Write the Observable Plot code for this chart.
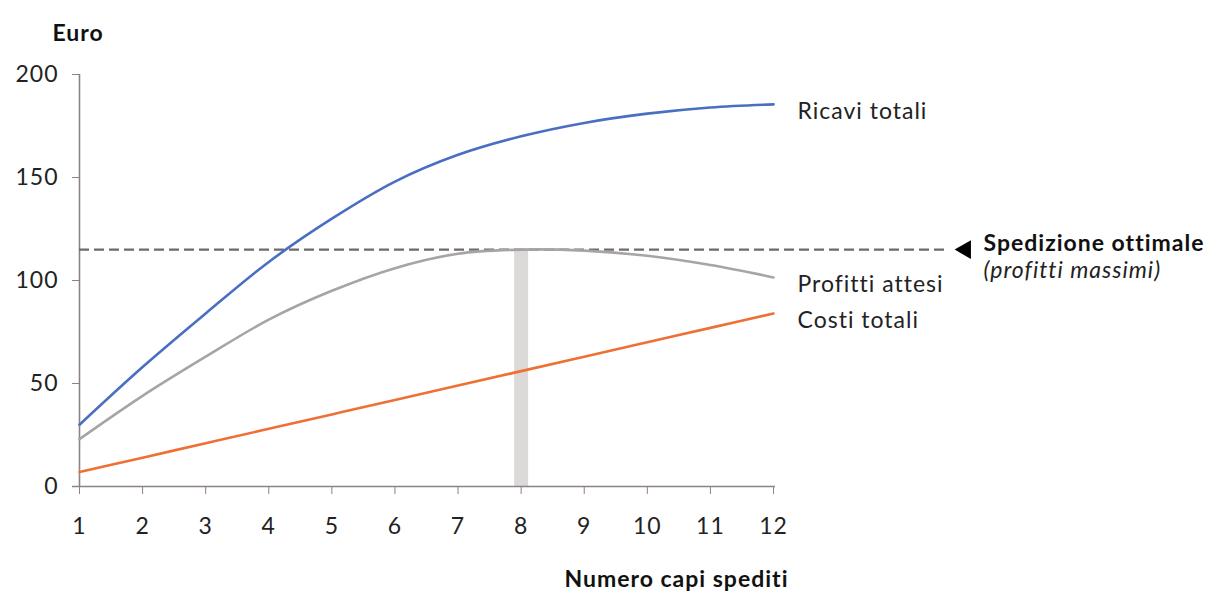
<!DOCTYPE html>
<html>
<head>
<meta charset="utf-8">
<script src="https://cdn.jsdelivr.net/npm/d3@7"></script>
<script src="https://cdn.jsdelivr.net/npm/@observablehq/plot@0.6"></script>
<style>
  html, body { margin: 0; padding: 0; background: #fff; }
  #chart svg { display: block; }
</style>
</head>
<body>
<div id="chart"></div>
<script>
// Numero di capi spediti (asse x)
const capi = [1, 2, 3, 4, 5, 6, 7, 8, 9, 10, 11, 12];
// Valori in euro per ogni quantità spedita
const ricavi = [30, 58, 84, 109, 130, 148, 161, 170, 176.5, 181, 184, 185.5];
const profitti = [23, 44, 63, 81, 95, 106, 113, 115, 114.5, 112, 107.5, 101.5];
const costi = [7, 14, 21, 28, 35, 42, 49, 56, 63, 70, 77, 84];
// Punto ottimo: quantità e profitto massimo
const ottimoCapi = 8;
const ottimoProfitto = 115;
const yTicks = [0, 50, 100, 150, 200];

const serie = [
  {nome: "Ricavi totali", valori: ricavi, colore: "#4a6fc2"},
  {nome: "Profitti attesi", valori: profitti, colore: "#a9a4a4"},
  {nome: "Costi totali", valori: costi, colore: "#ee7034"}
];
const punti = serie.flatMap(s => s.valori.map((v, i) => ({serie: s.nome, capi: capi[i], euro: v})));
const ultimi = serie.map(s => ({serie: s.nome, capi: capi[capi.length - 1], euro: s.valori[s.valori.length - 1]}));
const colori = Object.fromEntries(serie.map(s => [s.nome, s.colore]));

const axisColor = "#8c8282";
const textColor = "#222";

const chart = Plot.plot({
  width: 1215,
  height: 593,
  marginLeft: 79,
  marginRight: 442,
  marginTop: 74,
  marginBottom: 107,
  style: {fontFamily: "Lato, 'Open Sans', sans-serif", fontSize: "23px", letterSpacing: "1px", color: textColor, background: "#fff"},
  x: {domain: [1, 12]},
  y: {domain: [0, 200]},
  marks: [
    // barra verticale sulla quantità ottimale
    Plot.ruleX([ottimoCapi], {y1: 0, y2: ottimoProfitto, stroke: "#dcd9d9", strokeWidth: 14}),
    // assi
    Plot.ruleY([0], {stroke: axisColor, strokeWidth: 1.6, insetLeft: -7, insetRight: -2}),
    Plot.ruleX([1], {stroke: axisColor, strokeWidth: 1.6}),
    Plot.axisX({ticks: capi, tickFormat: d => String(d), tickSize: 8, tickPadding: 23, stroke: axisColor, fontSize: 23, label: null}),
    Plot.axisY({ticks: yTicks, tickSize: 7, tickPadding: 14, stroke: axisColor, fontSize: 23, label: null}),
    // linea del profitto massimo
    Plot.ruleY([ottimoProfitto], {stroke: "#6f6a6a", strokeWidth: 2.4, strokeDasharray: "10,5", insetRight: -172}),
    // curve
    Plot.line(punti, {x: "capi", y: "euro", z: "serie", stroke: d => colori[d.serie], strokeWidth: 2.6, curve: "catmull-rom"}),
    // etichette delle curve
    Plot.text(ultimi, {x: "capi", y: "euro", text: "serie", textAnchor: "start", dx: 24, dy: 7, fill: textColor}),
    // freccia e annotazione
    Plot.dot([ottimoProfitto], {y: d => d, frameAnchor: "right", dx: 192, symbol: "triangle2", r: 9, fill: "#000", rotate: -90}),
    Plot.text([ottimoProfitto], {y: d => d, frameAnchor: "right", dx: 210, dy: -6, textAnchor: "start", text: () => "Spedizione ottimale", fontWeight: "bold", fill: "#111", letterSpacing: "0.6px"}),
    Plot.text([ottimoProfitto], {y: d => d, frameAnchor: "right", dx: 210, dy: 21, textAnchor: "start", text: () => "(profitti massimi)", fontStyle: "italic", fill: textColor}),
    // titoli degli assi
    Plot.text(["Euro"], {frameAnchor: "top-left", dx: -27, dy: -50, textAnchor: "start", text: d => d, fontWeight: "bold", fill: "#111"}),
    Plot.text(["Numero capi spediti"], {frameAnchor: "bottom-right", dx: 15, dy: 100, textAnchor: "end", text: d => d, fontWeight: "bold", fill: "#111", letterSpacing: "1.5px"})
  ]
});

document.getElementById("chart").appendChild(chart);
</script>
</body>
</html>
